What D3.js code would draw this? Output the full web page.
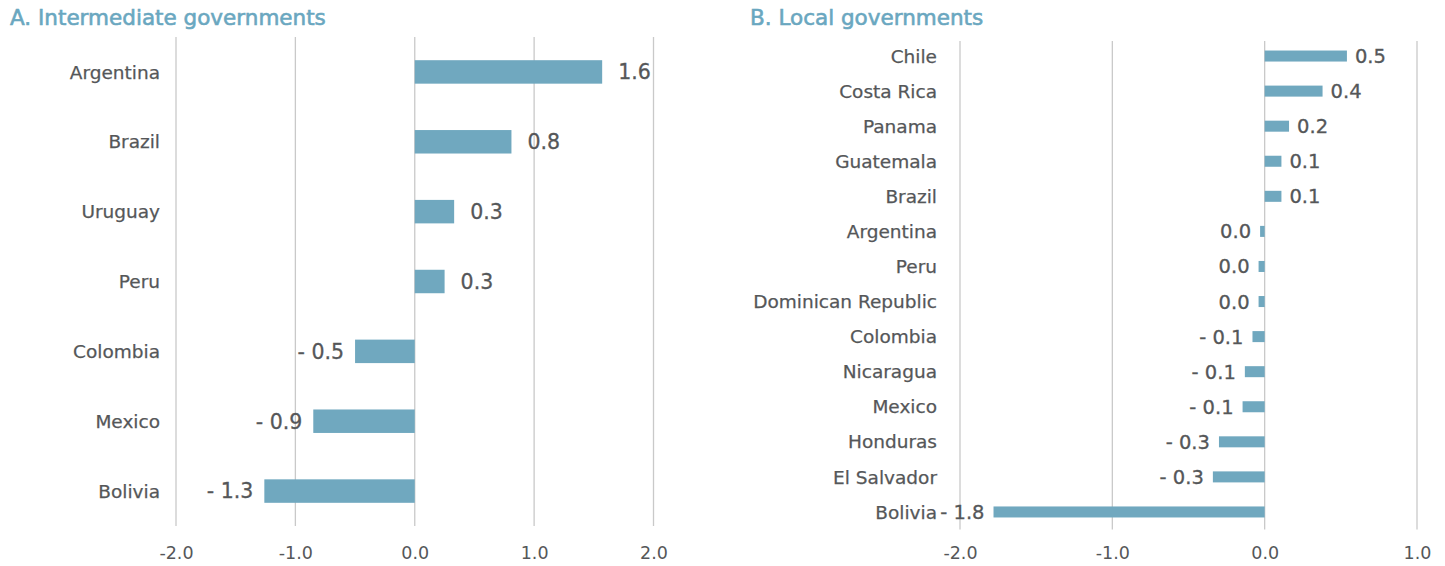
<!DOCTYPE html>
<html>
<head>
<meta charset="utf-8">
<script src="https://cdn.jsdelivr.net/npm/d3@7"></script>
<style>
  html, body { margin: 0; padding: 0; background: #ffffff; }
  svg text { font-family: "DejaVu Sans", "Open Sans", sans-serif; }
</style>
</head>
<body>
<svg id="chart" width="1445" height="566"></svg>
<script>
// Panel A: intermediate governments
const intermediateCountries = ["Argentina", "Brazil", "Uruguay", "Peru", "Colombia", "Mexico", "Bolivia"];
const intermediateValues = [1.57, 0.81, 0.33, 0.25, -0.50, -0.85, -1.26];
const intermediateTicks = [-2, -1, 0, 1, 2];

// Panel B: local governments
const localCountries = ["Chile", "Costa Rica", "Panama", "Guatemala", "Brazil", "Argentina", "Peru",
  "Dominican Republic", "Colombia", "Nicaragua", "Mexico", "Honduras", "El Salvador", "Bolivia"];
const localValues = [0.54, 0.38, 0.16, 0.11, 0.11, -0.03, -0.04, -0.04, -0.08, -0.13, -0.145, -0.30, -0.34, -1.78];
const localTicks = [-2, -1, 0, 1];

const barColor = "#70a8bf";
const titleColor = "#6aa7c0";
const textColor = "#555759";
const gridColor = "#c9c9c9";

const svg = d3.select("#chart");

function formatValue(v) {
  const r = Math.round(Math.abs(v) * 10) / 10;
  const s = r.toFixed(1);
  return (v < 0 && r > 0) ? "- " + s : s;
}

// axis labels use a plain hyphen for negatives
const tickFormat = d => (d < 0 ? "-" : "") + Math.abs(d).toFixed(1);

function panel(cfg) {
  const g = svg.append("g");
  const x = d3.scaleLinear().domain(cfg.domain).range(cfg.xRange);
  const y = d3.scaleBand().domain(cfg.categories).range(cfg.yRange)
    .paddingInner(cfg.padding).paddingOuter(cfg.padding / 2);

  g.append("text")
    .attr("x", cfg.titleX).attr("y", 25)
    .attr("fill", titleColor)
    .attr("font-size", 21.5).attr("font-weight", 400)
    .attr("stroke", titleColor).attr("stroke-width", 0.6)
    .text(cfg.title);

  // vertical gridlines
  g.selectAll("line.grid").data(cfg.ticks).join("line")
    .attr("class", "grid")
    .attr("x1", d => x(d)).attr("x2", d => x(d))
    .attr("y1", cfg.gridTop).attr("y2", cfg.yRange[1])
    .attr("stroke", gridColor).attr("stroke-width", 1.3);

  // tick labels via axis
  const axis = d3.axisBottom(x).tickValues(cfg.ticks).tickFormat(tickFormat).tickSize(0).tickPadding(0);
  const ax = g.append("g").attr("transform", `translate(0,${cfg.tickY})`).call(axis);
  ax.select(".domain").remove();
  ax.selectAll("text")
    .attr("fill", textColor).attr("font-size", 17.5)
    .attr("font-family", "'DejaVu Sans', 'Open Sans', sans-serif")
    .attr("dy", "0.35em");

  const data = cfg.categories.map((c, i) => ({ c, v: cfg.values[i] }));

  g.selectAll("rect.bar").data(data).join("rect")
    .attr("class", "bar")
    .attr("x", d => x(Math.min(0, d.v)))
    .attr("width", d => Math.abs(x(d.v) - x(0)))
    .attr("y", d => y(d.c))
    .attr("height", y.bandwidth())
    .attr("fill", barColor);

  // category labels
  g.selectAll("text.cat").data(data).join("text")
    .attr("class", "cat")
    .attr("x", cfg.catX)
    .attr("y", d => y(d.c) + y.bandwidth() / 2)
    .attr("dy", "0.36em")
    .attr("text-anchor", "end")
    .attr("fill", textColor).attr("font-size", 18.5)
    .attr("stroke", textColor).attr("stroke-width", 0.25)
    .text(d => d.c);

  // value labels
  g.selectAll("text.val").data(data).join("text")
    .attr("class", "val")
    .attr("x", d => d.v >= 0 ? x(d.v) + cfg.gapPos : x(d.v) - cfg.gapNeg)
    .attr("y", d => y(d.c) + y.bandwidth() / 2)
    .attr("dy", "0.36em")
    .attr("text-anchor", d => d.v >= 0 ? "start" : "end")
    .attr("fill", textColor).attr("font-size", cfg.valueSize)
    .attr("stroke", textColor).attr("stroke-width", 0.3)
    .text(d => formatValue(d.v));
}

panel({
  title: "A. Intermediate governments", titleX: 10,
  categories: intermediateCountries, values: intermediateValues, ticks: intermediateTicks,
  domain: [-2, 2], xRange: [176, 653.5], yRange: [37, 526], gridTop: 37,
  padding: 0.664, catX: 160, tickY: 553, gapPos: 16, gapNeg: 11, valueSize: 20.5
});

panel({
  title: "B. Local governments", titleX: 750,
  categories: localCountries, values: localValues, ticks: localTicks,
  domain: [-2, 1], xRange: [960, 1417], yRange: [38.5, 529.5], gridTop: 41,
  padding: 0.686, catX: 937, tickY: 553, gapPos: 8, gapNeg: 9, valueSize: 19.5
});
</script>
</body>
</html>
